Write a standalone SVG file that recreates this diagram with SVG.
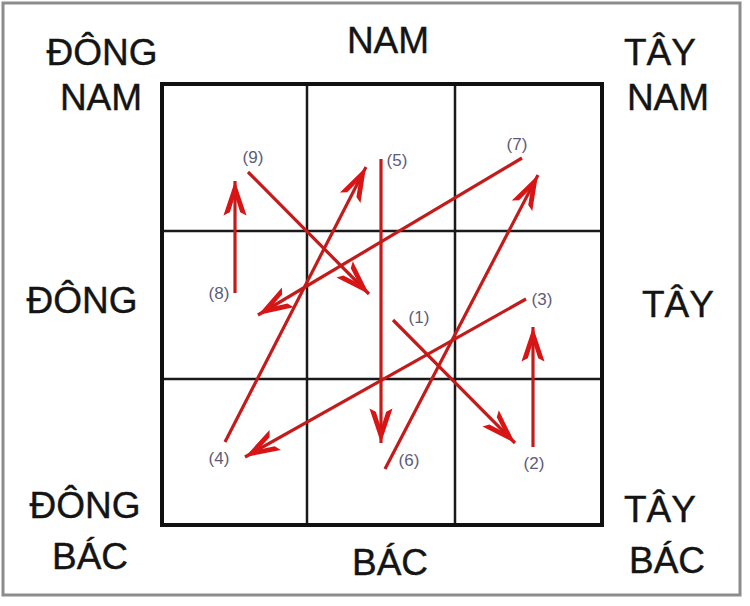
<svg xmlns="http://www.w3.org/2000/svg" width="750" height="606" viewBox="0 0 750 606">
  <style>
    .dir { font-family: "Liberation Sans", Arial, sans-serif; font-size: 37px; fill: #141414; text-anchor: middle; stroke: #141414; stroke-width: 0.4; }
    .num { font-family: "Liberation Sans", Arial, sans-serif; font-size: 17px; fill: #5c5c7a; text-anchor: middle; }
    .arrow { stroke: #c41a1a; stroke-width: 3.2; fill: none; marker-end: url(#head); }
    .thin { stroke: #1a1a1a; stroke-width: 2.5; }
  </style>
  <defs>
    <marker id="head" markerUnits="userSpaceOnUse" markerWidth="40" markerHeight="30" refX="0" refY="0" viewBox="-32 -13 34 26" orient="auto">
      <path d="M0,0 L-30,-10 L-27,-4.5 L-13,0 L-27,4.5 L-30,10 Z" fill="#d91414"/>
    </marker>
  </defs>
  <rect width="750" height="606" fill="#ffffff"/>
  <rect id="frame" x="3" y="3" width="737" height="592" fill="none" stroke="#8c8c8c" stroke-width="3"/>

  <g id="grid">
    <line class="thin" x1="307" y1="84" x2="307" y2="525"/>
    <line class="thin" x1="455" y1="84" x2="455" y2="525"/>
    <line class="thin" x1="162" y1="231" x2="602" y2="231"/>
    <line class="thin" x1="162" y1="379" x2="602" y2="379"/>
    <rect x="162" y="84" width="440" height="441" fill="none" stroke="#111" stroke-width="4"/>
  </g>

  <g id="directions">
    <text class="dir" x="102" y="65">ĐÔNG</text>
    <text class="dir" x="101" y="110">NAM</text>
    <text class="dir" x="388" y="53">NAM</text>
    <text class="dir" x="660" y="65">TÂY</text>
    <text class="dir" x="668" y="110">NAM</text>
    <text class="dir" x="82" y="313">ĐÔNG</text>
    <text class="dir" x="678" y="317">TÂY</text>
    <text class="dir" x="85" y="518">ĐÔNG</text>
    <text class="dir" x="90" y="569">BÁC</text>
    <text class="dir" x="390" y="575">BÁC</text>
    <text class="dir" x="660" y="522">TÂY</text>
    <text class="dir" x="667" y="573">BÁC</text>
  </g>

  <g id="connectors">
    <line class="arrow" x1="393" y1="320" x2="515" y2="443"/>
    <line class="arrow" x1="533" y1="447" x2="533" y2="327"/>
    <line class="arrow" x1="526" y1="299" x2="245" y2="457"/>
    <line class="arrow" x1="225" y1="442" x2="366" y2="167"/>
    <line class="arrow" x1="381" y1="159" x2="381" y2="443"/>
    <line class="arrow" x1="385" y1="469" x2="538" y2="175"/>
    <line class="arrow" x1="522" y1="158" x2="258" y2="315"/>
    <line class="arrow" x1="235" y1="293" x2="235" y2="181"/>
    <line class="arrow" x1="248" y1="172" x2="369" y2="294"/>
  </g>

  <g id="n1"><text class="num" x="419" y="323">(1)</text></g>
  <g id="n2"><text class="num" x="534" y="469">(2)</text></g>
  <g id="n3"><text class="num" x="542" y="305">(3)</text></g>
  <g id="n4"><text class="num" x="219" y="464">(4)</text></g>
  <g id="n5"><text class="num" x="397" y="166">(5)</text></g>
  <g id="n6"><text class="num" x="409" y="466">(6)</text></g>
  <g id="n7"><text class="num" x="517" y="150">(7)</text></g>
  <g id="n8"><text class="num" x="219" y="299">(8)</text></g>
  <g id="n9"><text class="num" x="253" y="163">(9)</text></g>
</svg>
